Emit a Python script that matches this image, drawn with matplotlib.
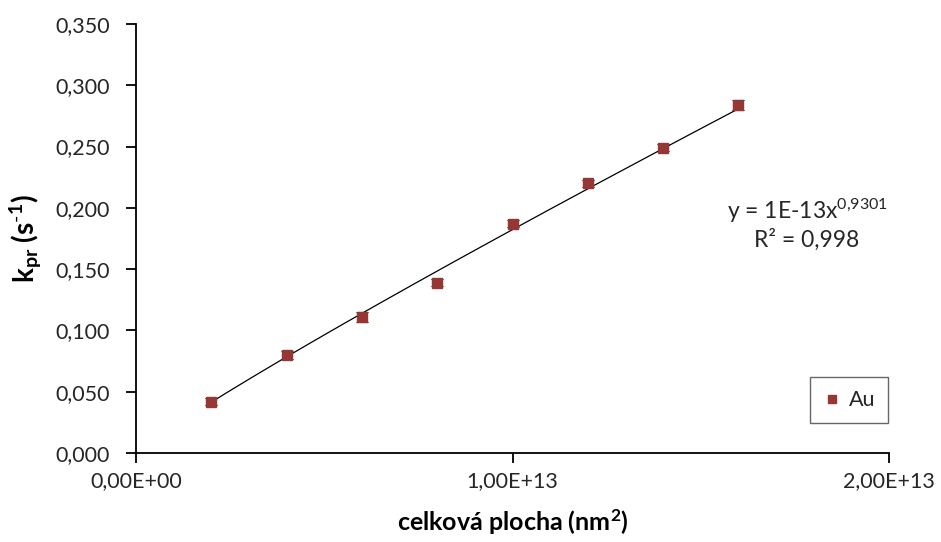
import numpy as np
import matplotlib
matplotlib.use("Agg")
import matplotlib.pyplot as plt
from matplotlib.ticker import FixedLocator, FuncFormatter
from matplotlib.lines import Line2D

plt.rcParams['font.family'] = ['Lato', 'DejaVu Sans']
plt.rcParams['mathtext.fontset'] = 'custom'
plt.rcParams['mathtext.rm'] = 'Lato'
plt.rcParams['mathtext.it'] = 'Lato'
plt.rcParams['mathtext.bf'] = 'Lato:bold'

# Total surface area (nm^2) and rate constant k_pr (s^-1)
plocha = [2e12, 4e12, 6e12, 8e12, 1.0e13, 1.2e13, 1.4e13, 1.6e13]
k_pr = [0.042, 0.080, 0.111, 0.139, 0.187, 0.220, 0.249, 0.284]
k_err = [0.003, 0.003, 0.004, 0.003, 0.003, 0.003, 0.003, 0.004]

y_ticks = [0.0, 0.05, 0.10, 0.15, 0.20, 0.25, 0.30, 0.35]
x_ticks = [0.0, 1e13, 2e13]
x_tick_labels = ["0,00E+00", "1,00E+13", "2,00E+13"]

marker_color = "#953735"
text_color = "#262626"

fig = plt.figure(figsize=(9.41, 5.42), dpi=100)
ax = fig.add_axes([136/941, 1 - 453/542, (889-136)/941, (453-24)/542])

ax.errorbar(plocha, k_pr, yerr=k_err, fmt='s', color=marker_color, markersize=7,
            ecolor='black', elinewidth=0.8, capsize=4, capthick=0.8, zorder=3)

# Power-law trendline fitted in log-log space
b, ln_a = np.polyfit(np.log(plocha), np.log(k_pr), 1)
xs = np.linspace(min(plocha), max(plocha), 200)
ax.plot(xs, np.exp(ln_a) * xs ** b, color='black', linewidth=0.9, zorder=2)

ax.set_xlim(0, 2e13)
ax.set_ylim(0, 0.35)
ax.xaxis.set_major_locator(FixedLocator(x_ticks))
ax.set_xticklabels(x_tick_labels)
ax.yaxis.set_major_locator(FixedLocator(y_ticks))
ax.yaxis.set_major_formatter(FuncFormatter(lambda v, p: f"{v:.3f}".replace('.', ',')))

for s in ['top', 'right']:
    ax.spines[s].set_visible(False)
for s in ['left', 'bottom']:
    ax.spines[s].set_color('black')
    ax.spines[s].set_linewidth(1.3)
ax.tick_params(axis='both', direction='out', length=7, width=1.3, labelsize=15.5,
               colors='black', labelcolor=text_color)
ax.tick_params(axis='y', pad=12)
ax.tick_params(axis='x', pad=6)

ax.set_ylabel(r"$\mathbf{k_{pr}}$ $\mathbf{(s^{\text{-}1})}$", fontsize=20,
              fontweight='bold', labelpad=8, color='black')
ax.set_xlabel(r"celková plocha (nm$\mathbf{^{2}}$)", fontsize=18, fontweight='bold',
              labelpad=12, color='black')

ax.text(0.891, 0.535, "y = 1E-13x$^{0{,}9301}$\nR² = 0,998", transform=ax.transAxes,
        ha='center', va='center', fontsize=16.5, color=text_color, linespacing=1.2)

handle = Line2D([], [], marker='s', linestyle='none', color=marker_color, markersize=6)
leg = ax.legend([handle], ['Au'], loc='lower right', bbox_to_anchor=(0.999, 0.07),
                frameon=True, fancybox=False, fontsize=15.5, handlelength=0.8,
                handletextpad=0.4, borderpad=0.6, borderaxespad=0)
leg.get_frame().set_edgecolor('#404040')
leg.get_frame().set_linewidth(1.0)
for t in leg.get_texts():
    t.set_color(text_color)

fig.savefig("out.png", dpi=100)
